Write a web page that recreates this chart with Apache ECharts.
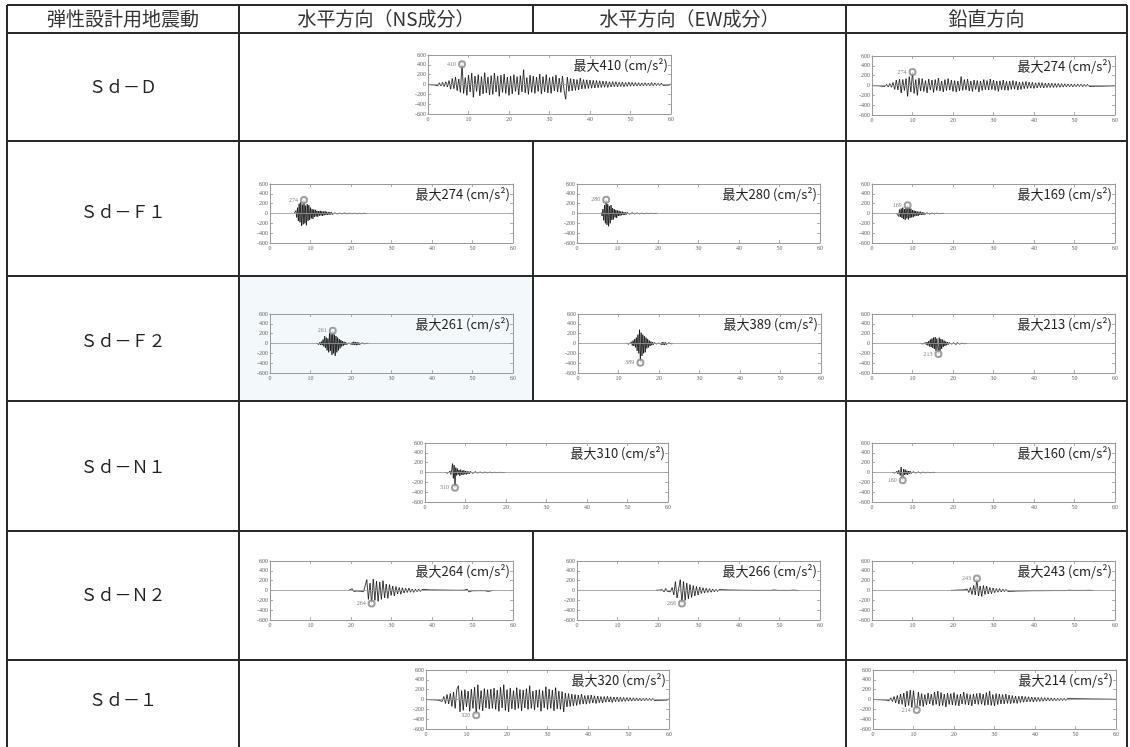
<!DOCTYPE html>
<html><head><meta charset="utf-8">
<script src="https://cdn.jsdelivr.net/npm/echarts/dist/echarts.min.js"></script>
<style>html,body{margin:0;padding:0;background:#fff}#c{width:1130px;height:747px}</style>
</head><body><div id="c"></div>
<script>
// ---------------- data ----------------
const headerLabels = ['弾性設計用地震動', '水平方向（NS成分）', '水平方向（EW成分）', '鉛直方向'];
const rowLabels = ['Ｓｄ－Ｄ', 'Ｓｄ－Ｆ１', 'Ｓｄ－Ｆ２', 'Ｓｄ－Ｎ１', 'Ｓｄ－Ｎ２', 'Ｓｄ－１'];
const xTicks = [0, 10, 20, 30, 40, 50, 60];
const yTicks = [-600, -400, -200, 0, 200, 400, 600];
const plotNames = ['Sd-D H', 'Sd-D V', 'Sd-F1 NS', 'Sd-F1 EW', 'Sd-F1 V', 'Sd-F2 NS', 'Sd-F2 EW', 'Sd-F2 V',
  'Sd-N1 H', 'Sd-N1 V', 'Sd-N2 NS', 'Sd-N2 EW', 'Sd-N2 V', 'Sd-1 H', 'Sd-1 V'];
// start time and sample step (s) of each record
const waveStart = [0, 0, 6, 6, 6, 11.5, 12, 12, 5, 5, 19.5, 19.5, 19.5, 0, 0];
const waveStep = [0.4, 0.4, 0.2, 0.2, 0.2, 0.2, 0.2, 0.2, 0.2, 0.2, 0.4, 0.4, 0.4, 0.4, 0.4];
// peak (time, value)
const peakTime = [8.4, 10, 8.4, 7.2, 8.8, 15.5, 15.4, 16.4, 7.4, 7.6, 25.1, 25.9, 25.9, 12.4, 10.8];
const peakValue = [410, 274, 274, 280, 169, 261, -389, -213, -310, -160, -264, -266, 243, -320, -214];

const wSdD_H = [0,4,-6,8,-10,
 20,-28,35,-30,45,-40,55,-50,
 80,-95,120,-85,150,-125,110,-160,
 410,
 -180,140,-220,190,-150,230,-260,170,-140,
 200,-230,160,-190,240,-170,150,-210,180,-200,
 230,-150,170,-240,190,-160,210,-180,150,-220,
 170,-190,200,-140,160,-210,180,-150,300,-170,
 140,-200,190,-160,170,-180,150,-140,210,-190,
 160,-150,200,-170,140,-180,160,-130,190,-150,
 130,-160,170,-120,-300,150,-140,120,-130,110,
 -120,100,-110,130,-90,100,-85,95,-80,90,
 -75,85,-70,80,-65,75,-60,70,-55,65,
 -60,55,-50,60,-45,55,-50,45,-40,50,
 -45,40,-38,45,-35,40,-33,38,-30,35,
 -30,32,-28,35,-25,30,-28,40,-25,30,
 -22,25,-20,28,-18,22,-15,18,-12,10];
const wSdD_V = [0,3,-4,5,-6,
 10,-15,20,-18,25,-30,40,-35,
 60,-80,110,-90,130,-150,120,-100,
 140,-220,180,-130,
 274,
 -160,120,-200,150,-110,
 140,-120,100,-150,130,-90,110,-140,120,-100,
 150,-110,90,-130,120,-100,140,-90,110,-120,
 100,-130,90,-110,180,-100,120,-90,130,-110,
 90,-120,110,-80,100,-130,90,-100,120,-85,
 100,-90,130,-80,110,-100,90,-120,95,-85,
 110,-95,85,-100,90,-80,100,-75,85,-90,
 70,-80,75,-65,80,-60,70,-55,65,-60,
 55,-50,60,-45,55,-50,48,-42,50,-40,
 45,-40,42,-38,40,-35,38,-32,35,-30,
 32,-28,30,-30,28,-25,30,-22,25,-25,
 22,-20,25,-18,20,-20,18,-15,20,-15,
 15,-14,16,-12,14,-10,12,-8,10,-5];
const wF1_NS = [10,-30,60,-80,120,
 -150,200,-180,230,-250,
 180,-220,274,-200,160,
 -240,190,-150,170,-130,
 120,-100,90,-110,80,
 -70,75,-60,55,-65,
 50,-45,55,-40,45,
 -50,40,-35,45,-30,
 35,-30,28,-25,30,
 -22,25,-20,18,-15,
 12,-10,8,-9,10,-7,6,-8,9,-6,
 7,-8,10,-6,5,-7,8,-5,6,-6,
 5,-4,6,-5,4,-6,5,-4,3,-5,
 4,-3,5,-4,3,-3,4,-2,3,-2];
const wF1_EW = [20,-50,90,-140,170,-200,
 280,
 -230,190,-260,150,-200,170,-130,110,
 -120,90,-80,70,-90,60,-50,55,-45,40,
 -35,40,-30,28,-32,25,-20,22,-18,20,
 -15,14,-12,15,-10,12,-9,10,-8,8,
 -7,6,-6,7,-5,5,-6,4,-4,5,-3,4,-4,3,-3,3,-2,3,-2,2,-2,2,-1,2,-1];
const wF1_V = [10,-25,40,-60,80,-70,100,-90,120,-110,
 90,-130,140,-100,169,
 -120,110,-90,100,-80,70,-75,60,-55,50,
 -45,40,-50,35,-30,38,-28,25,-30,22,
 -20,18,-22,15,-14,16,-12,10,-12,8,
 -8,7,-6,6,-5,5,-4,4,-3,3,-3,2,-2,2,-1];
const wF2_NS = [5,-10,15,-20,25,-30,40,-35,
 80,-60,150,-90,120,-140,100,
 -180,210,-150,190,-230,
 261,
 -200,180,-250,150,-180,120,-140,90,-100,
 70,-60,50,-45,35,-30,25,-20,15,-12,
 10,-8,15,-20,25,
 -30,35,-28,30,-35,25,-30,20,-22,18,
 -15,12,-10,8,-6,5,-4,3,-2,1];
const wF2_EW = [5,-8,12,-15,20,-25,35,-40,60,-50,
 90,-80,120,-150,180,-200,
 280,-389,
 220,-250,180,-200,150,-180,120,-100,90,-80,
 60,-50,40,-35,30,-25,18,-15,10,-8,
 6,-5,10,-15,20,-25,30,-28,25,-30,
 22,-20,18,-15,12,-10,8,-6,4,-2];
const wF2_V = [3,-5,8,-10,12,-15,20,-25,30,-40,
 50,-60,80,-70,100,-90,120,-110,130,-150,
 100,140,-213,
 120,-150,90,-110,80,-70,60,-50,40,-35,
 30,-25,20,-15,12,-10,8,-12,15,-20,
 25,-22,20,-18,15,-12,10,-8,6,-5,
 4,-3,2,-2,1];
const wN1_H = [5,-8,10,-15,20,-25,30,-40,60,180,
 -120,150,
 -310,
 100,-60,80,-40,50,-70,60,-45,40,-50,
 45,-35,30,-40,25,-30,20,-25,22,-18,
 15,-18,14,-12,15,-10,12,-10,8,-10,
 9,-8,10,-7,8,-6,7,-6,5,-6,
 5,-5,6,-4,5,-4,4,-4,3,-4,
 3,-3,4,-3,3,-2,3,-2,2,-2,1,-1];
const wN1_V = [3,-5,8,-10,15,-20,25,-30,45,80,
 -60,110,-90,
 -160,
 70,-50,60,-40,35,-45,30,-25,30,-20,
 18,-22,15,-12,14,-10,12,-8,10,-8,
 7,-8,6,-5,6,-4,5,-4,3,-3,
 3,-2,3,-2,2,-2,2,-1,1,-1];
const wN2_NS = [5,-30,35,-20,10,
 -10,12,-15,20,-25,
 -60,220,-180,150,-264,
 230,-200,190,-220,170,-180,200,-150,130,-160,
 120,-100,90,-110,80,-70,60,-75,55,-50,
 45,-40,50,-35,30,-38,28,-25,30,-22,
 20,-18,22,-15,14,-16,12,-10,12,-9,
 10,-8,9,-7,8,-6,7,-6,5,-6,
 5,-5,4,-4,5,-4,6,-5,25,-30,
 10,-6,5,-4,4,-3,3,-3,4,-3,
 18,-20,5,-3,2];
const wN2_EW = [3,-5,8,-10,15,
 -30,40,-20,15,-25,
 60,-90,180,-150,-120,220,
 -266,
 180,-200,150,-170,120,-140,100,-110,80,-90,
 70,-60,55,-50,45,-40,38,-35,30,-28,
 25,-22,20,-18,16,-15,14,-12,10,-10,
 9,-8,8,-7,6,-6,5,-5,4,-4,
 4,-3,3,-3,3,-2,2,-2,2,-2,
 2,-2,3,-2,2,-1,12,-10,2,-1,
 1,-1,2,-1,1,-1,2,-1,8,-6,1,-1];
const wN2_V = [2,-3,4,-5,8,-6,10,-8,12,-15,
 30,-40,60,-80,100,-90,
 243,
 -110,90,-120,100,-80,90,-70,60,-65,50,
 -45,40,-35,38,-30,28,-25,22,-20,18,
 -16,15,-14,12,-10,10,-9,8,-8,7,
 -6,6,-5,5,-4,4,-4,3,-3,3,
 -3,2,-2,2,-2,2,-1,1,-1,1,
 -1,1,-1,1,-1,1,6,-5,1,-1,
 1,-1,1,-1,1,-1,1,-1,4,-3,1,-1];
const wSd1_H = [0,2,-3,5,-6,8,-10,12,-15,18,
 -40,60,-80,100,-90,120,-140,150,-180,200,
 280,-250,180,-220,200,-150,170,-240,210,-180,
 250,-320,300,-200,180,-230,220,-170,200,-190,
 210,-180,230,-200,190,-240,250,-170,300,-220,
 200,-250,230,-190,180,-210,240,-180,200,-230,
 190,-170,220,-200,280,-180,170,-210,190,-160,
 200,-240,180,-170,260,-200,210,-180,190,-230,
 240,-190,170,-200,160,-250,130,-150,120,-140,
 110,-130,100,-120,90,-100,110,-90,80,-95,
 85,-80,90,-70,75,-80,70,-65,60,-70,
 60,-55,65,-50,55,-60,50,-45,50,-45,
 45,-40,42,-38,40,-35,38,-32,35,-30,
 32,-30,28,-30,26,-25,28,-22,25,-22,
 22,-20,20,-18,18,-16,15,-14,12,-10,8];
const wSd1_V = [0,1,-2,3,-4,5,-8,10,-12,15,
 -25,35,-40,60,-70,80,-90,110,-100,130,
 -150,170,-120,190,-160,180,-140,-214,150,-130,
 120,-140,100,-110,130,-90,110,-120,150,-100,
 170,-130,140,-120,110,-150,130,-100,120,-110,
 140,-120,100,-130,110,-90,150,-100,120,-110,
 100,-130,110,-90,120,-100,130,-95,110,-120,
 140,-110,170,-120,100,-130,120,-100,110,-90,
 100,-90,110,-80,90,-85,80,-75,70,-80,
 65,-60,70,-55,60,-50,55,-45,50,-48,
 45,-40,42,-38,40,-35,38,-32,35,-30,
 32,-28,30,-26,28,-25,26,-22,24,-20,
 22,-18,20,-16,18,-15,16,-14,15,-12,
 14,-12,13,-11,12,-10,11,-9,10,-8,
 9,-8,8,-7,7,-6,6,-5,5,-4,2];
const waves = [wSdD_H, wSdD_V, wF1_NS, wF1_EW, wF1_V, wF2_NS, wF2_EW, wF2_V,
  wN1_H, wN1_V, wN2_NS, wN2_EW, wN2_V, wSd1_H, wSd1_V];

// ---------------- layout (pixels) ----------------
const plotBoxes = [
  [428, 55], [872, 56],
  [270, 184], [577, 184], [872, 184],
  [270, 314], [578, 314], [872, 314],
  [425, 443], [872, 443],
  [270, 561], [577, 561], [872, 561],
  [426, 670], [873, 670]
];
const PW = 243, PH = 59;
const TB = { l: 7, r: 1127, t: 5, h: 33, c1: 239, c2: 533, c3: 846 };
const rowLines = [141, 276, 401, 531, 660];
const rowCenters = [87, 212, 341, 467, 595, 700];
const headerCenters = [123, 386, 689.5, 986.5];
const midSegments = [[TB.t, TB.h], [141, 276], [276, 401], [531, 660]];
const JP = '"Noto Sans CJK JP", "Noto Sans", sans-serif';
const AX = '#9a9a9a';

const grids = [], xAxes = [], yAxes = [], series = [], graphics = [];

// tinted cell (Sd-F2 NS)
graphics.push({ type: 'rect', z: -10, silent: true, shape: { x: TB.c1, y: 276, width: TB.c2 - TB.c1, height: 125 }, style: { fill: '#f3f9fb' } });

plotBoxes.forEach(([l, t], i) => {
  grids.push({ left: l, top: t, width: PW, height: PH, containLabel: false });
  const tickBase = { inside: true, length: 3, lineStyle: { color: AX, width: 0.8 } };
  const lineBase = { show: true, onZero: false, lineStyle: { color: AX, width: 1 } };
  const lab = { fontSize: 6, color: '#666', margin: 2, fontFamily: '"Liberation Serif", serif' };
  xAxes.push({ type: 'value', gridIndex: i, min: xTicks[0], max: xTicks[xTicks.length - 1], interval: xTicks[1] - xTicks[0],
    axisLine: lineBase, axisTick: tickBase, axisLabel: lab, splitLine: { show: false } });
  xAxes.push({ type: 'value', gridIndex: i, position: 'top', min: xTicks[0], max: xTicks[xTicks.length - 1], interval: xTicks[1] - xTicks[0],
    axisLine: lineBase, axisTick: tickBase, axisLabel: { show: false }, splitLine: { show: false } });
  yAxes.push({ type: 'value', gridIndex: i, min: yTicks[0], max: yTicks[yTicks.length - 1], interval: yTicks[1] - yTicks[0],
    axisLine: lineBase, axisTick: tickBase, axisLabel: lab, splitLine: { show: false } });
  yAxes.push({ type: 'value', gridIndex: i, position: 'right', min: yTicks[0], max: yTicks[yTicks.length - 1], interval: yTicks[1] - yTicks[0],
    axisLine: lineBase, axisTick: tickBase, axisLabel: { show: false }, splitLine: { show: false } });
  const t0 = waveStart[i], dt = waveStep[i];
  series.push({
    name: plotNames[i], type: 'line', xAxisIndex: 2 * i, yAxisIndex: 2 * i,
    data: waves[i].map((v, k) => [+(t0 + k * dt).toFixed(2), v]),
    symbol: 'none', showSymbol: false, animation: false, silent: true,
    lineStyle: { color: '#000', width: 0.75 },
    markLine: { silent: true, symbol: 'none', animation: false, label: { show: false },
      lineStyle: { color: '#999', width: 0.8, type: 'solid' }, data: [{ yAxis: 0 }] }
  });
  series.push({
    type: 'scatter', xAxisIndex: 2 * i, yAxisIndex: 2 * i, animation: false, silent: true,
    data: [[peakTime[i], peakValue[i]]], symbol: 'emptyCircle', symbolSize: 6,
    itemStyle: { color: '#888', borderColor: '#888', borderWidth: 0.7 }, z: 5,
    label: { show: true, position: 'left', distance: 2, formatter: String(Math.abs(peakValue[i])),
      fontSize: 6, color: '#666', fontFamily: '"Liberation Serif", serif' }
  });
  graphics.push({ type: 'text', x: l + PW - 3, y: t + 10, z: 10, silent: true,
    style: { text: '最大' + Math.abs(peakValue[i]) + ' (cm/s²)', fill: '#222', font: '13px ' + JP, textAlign: 'right', verticalAlign: 'middle' } });
});

// table lines
const line = (x1, y1, x2, y2) => graphics.push({ type: 'line', z: 20, silent: true, shape: { x1, y1, x2, y2 }, style: { stroke: '#2a2a2a', lineWidth: 2 } });
line(TB.l, TB.t, TB.r, TB.t);
line(TB.l, TB.h, TB.r, TB.h);
rowLines.forEach(y => line(TB.l, y, TB.r, y));
line(TB.l, TB.t, TB.l, 747);
line(TB.r, TB.t, TB.r, 747);
line(TB.c1, TB.t, TB.c1, 747);
line(TB.c3, TB.t, TB.c3, 747);
midSegments.forEach(([a, b]) => line(TB.c2, a, TB.c2, b));

headerLabels.forEach((s, i) => graphics.push({ type: 'text', x: headerCenters[i], y: 19, z: 20, silent: true,
  style: { text: s, fill: '#333', font: '19px ' + JP, textAlign: 'center', verticalAlign: 'middle' } }));
rowLabels.forEach((s, i) => graphics.push({ type: 'text', x: headerCenters[0], y: rowCenters[i], z: 20, silent: true,
  style: { text: s, fill: '#222', font: '17px ' + JP, textAlign: 'center', verticalAlign: 'middle' } }));

const chart = echarts.init(document.getElementById('c'), null, { renderer: 'canvas' });
chart.setOption({ animation: false, backgroundColor: '#fff', grid: grids, xAxis: xAxes, yAxis: yAxes, series, graphic: graphics });
</script></body></html>
